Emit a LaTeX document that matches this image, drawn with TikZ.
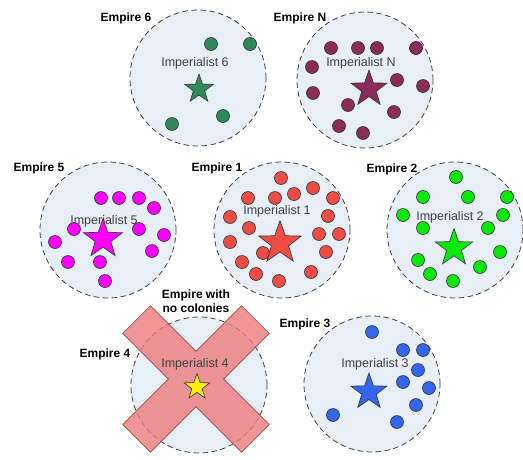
\documentclass[tikz,border=0pt]{standalone}
\usepackage{fontspec}
\setmainfont{Liberation Sans}
\usetikzlibrary{shapes.geometric}
\definecolor{empirebg}{RGB}{232,238,246}
\definecolor{colsix}{RGB}{46,139,87}
\definecolor{colN}{RGB}{140,42,92}
\definecolor{colfive}{RGB}{255,0,255}
\definecolor{colone}{RGB}{240,76,70}
\definecolor{coltwo}{RGB}{10,232,10}
\definecolor{colthree}{RGB}{52,102,235}
\definecolor{crossfill}{RGB}{236,124,124}
\definecolor{crossline}{RGB}{150,70,70}

\begin{document}
\begin{tikzpicture}[x=1pt,y=-1pt,
	empire/.style={circle,draw=black!75,dash pattern=on 5.5pt off 3.5pt,fill=empirebg,minimum size=136pt,inner sep=0pt,line width=0.8pt},
	colony/.style={circle,draw=black!80,fill=#1,minimum size=13pt,inner sep=0pt,line width=0.6pt},
	imperialist/.style={star,star points=5,star point ratio=2.5,draw=black!80,fill=#1,inner sep=0pt,line width=0.6pt},
	empirelabel/.style={font=\bfseries\fontsize{12}{14}\selectfont,inner sep=0pt},
	implabel/.style={font=\fontsize{12.5}{14}\selectfont,text=black!75,inner sep=0pt},
	cross/.style={draw=crossline,fill=crossfill,fill opacity=0.8,line width=0.6pt,line join=miter}]
				\useasboundingbox (0,0) rectangle (523,459);
				\node[empire] (e6) at (198,78) {};
				\node[empire] (eN) at (365,80) {};
				\node[empire] (e5) at (108,230) {};
				\node[empire] (e1) at (282,230) {};
				\node[empire] (e2) at (455,230) {};
				\node[empire] (e4) at (199,385) {};
				\node[empire] (e3) at (372,384) {};
				\node[empirelabel] (l6) at (126,18) {Empire 6};
				\node[empirelabel] (lN) at (300,18) {Empire N};
				\node[empirelabel] (l5) at (39,168) {Empire 5};
				\node[empirelabel] (l1) at (217,168) {Empire 1};
				\node[empirelabel] (l2) at (392,169) {Empire 2};
				\node[empirelabel] (l4) at (105,354) {Empire 4};
				\node[empirelabel] (l3) at (305,324) {Empire 3};
				\node[implabel] (t6) at (195,63) {Imperialist 6};
				\node[implabel] (tN) at (361,63) {Imperialist N};
				\node[implabel] (t5) at (104,221) {Imperialist 5};
				\node[implabel] (t1) at (277,211) {Imperialist 1};
				\node[implabel] (t2) at (450,217) {Imperialist 2};
				\node[implabel] (t3) at (375,364) {Imperialist 3};
				\foreach \p [count=\i] in {(211,44),(250,44),(172,124),(223,116)}
					\node[colony=colsix] (c6-\i) at \p {};
				\foreach \p [count=\i] in {(331,48),(358,48),(377,48),(416,48),(312,67),(313,93),(397,80),(423,86),(348,105),(394,112),(339,126),(363,133)}
					\node[colony=colN] (cN-\i) at \p {};
				\foreach \p [count=\i] in {(101,198),(119,198),(139,198),(154,208),(74,229),(139,229),(164,235),(55,242),(152,251),(68,262),(100,262),(105,281)}
					\node[colony=colfive] (c5-\i) at \p {};
				\foreach \p [count=\i] in {(281,178),(248,198),(275,198),(294,194),(313,188),(333,198),(230,217),(328,216),(249,228),(319,234),(339,234),(230,242),(326,252),(263,253),(242,262),(256,274),(279,281),(311,272)}
					\node[colony=colone] (c1-\i) at \p {};
				\foreach \p [count=\i] in {(456,177),(423,197),(468,197),(507,197),(403,215),(503,215),(423,228),(488,228),(500,252),(418,260),(480,267),(430,274),(453,281)}
					\node[colony=coltwo] (c2-\i) at \p {};
				\foreach \p [count=\i] in {(372,332),(403,350),(423,350),(418,370),(403,382),(429,388),(416,405),(333,415),(397,422)}
					\node[colony=colthree] (c3-\i) at \p {};
				\node[imperialist=colsix,minimum size=30pt] (s6) at (199,89) {};
				\node[imperialist=colN,minimum size=38pt] (sN) at (369,89) {};
				\node[imperialist=colfive,minimum size=41pt] (s5) at (103,239) {};
				\node[imperialist=colone,minimum size=45pt] (s1) at (280,243) {};
				\node[imperialist=coltwo,minimum size=39pt] (s2) at (454,248) {};
				\node[imperialist=colthree,minimum size=38pt] (s3) at (369,392) {};
				\draw[cross,shift={(196,379)}] (0,-27.6) -- (45.6,-73.2) -- (73.2,-45.6) -- (27.6,0) -- (73.2,45.6) -- (45.6,73.2) -- (0,27.6) -- (-45.6,73.2) -- (-73.2,45.6) -- (-27.6,0) -- (-73.2,-45.6) -- (-45.6,-73.2) -- cycle;
				\node[implabel] (t4) at (195,364) {Imperialist 4};
				\node[imperialist=yellow,minimum size=27pt] (s4) at (197,387) {};
				\node[empirelabel,align=center] (l0) at (196,301) {Empire with\\no colonies};
			\end{tikzpicture}
\end{document}
